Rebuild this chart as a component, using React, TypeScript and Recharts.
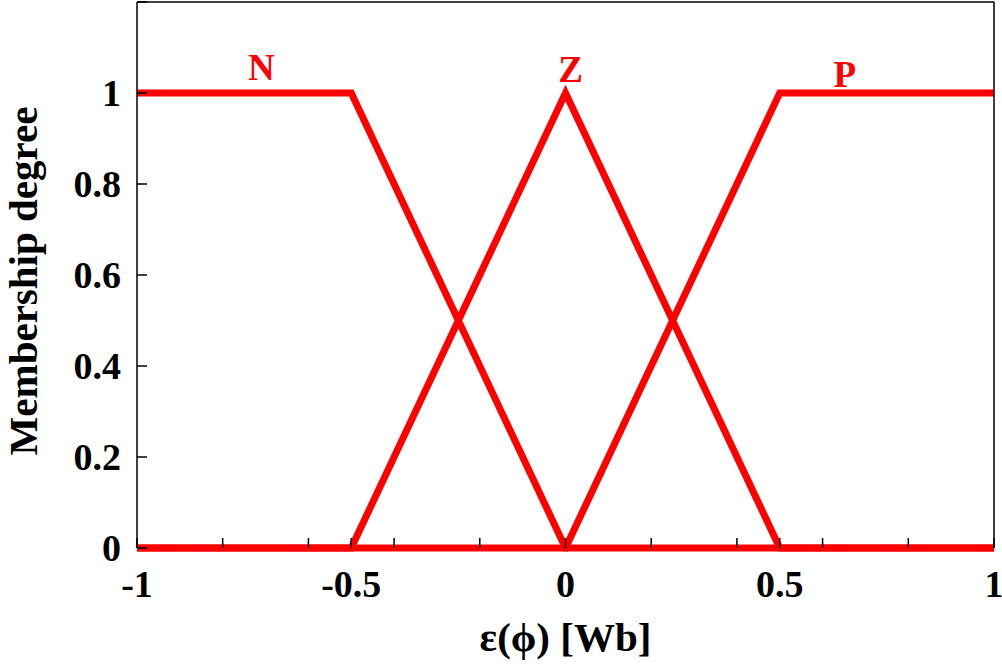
import { LineChart, Line, XAxis, YAxis, ReferenceDot } from 'recharts'

// membership functions, breakpoints on the x axis and their degrees
const N_X = [-1, -0.5, 0, 1]
const N_Y = [1, 1, 0, 0]
const Z_X = [-1, -0.5, 0, 0.5, 1]
const Z_Y = [0, 0, 1, 0, 0]
const P_X = [-1, 0, 0.5, 1]
const P_Y = [0, 0, 1, 1]

const X_TICKS = [-1, -0.8, -0.6, -0.5, -0.4, -0.2, 0, 0.2, 0.4, 0.5, 0.6, 0.8, 1]
const X_LABELS = [-1, -0.5, 0, 0.5, 1]
const Y_TICKS = [0, 0.2, 0.4, 0.6, 0.8, 1, 1.2]
const Y_LABELS = [0, 0.2, 0.4, 0.6, 0.8, 1]

// set names and where they sit (x, degree)
const SET_NAMES = ['N', 'Z', 'P']
const NAME_X = [-0.71, 0.012, 0.652]
const NAME_Y = [1.029, 1.024, 1.013]

const RED = '#ff0000'
const FONT = '"Liberation Serif", "Times New Roman", serif'

const toPoints = (xs: number[], ys: number[]) => xs.map((x, i) => ({ x, y: ys[i] }))

// eslint-disable-next-line @typescript-eslint/no-explicit-any
function XTick({ x, y, payload }: any) {
  if (!X_LABELS.includes(payload.value)) return null
  return (
    <text x={x} y={y + 49} textAnchor="middle" fill="#000" fontSize={38} fontWeight="bold" fontFamily={FONT}>
      {payload.value}
    </text>
  )
}

// eslint-disable-next-line @typescript-eslint/no-explicit-any
function YTick({ x, y, payload }: any) {
  if (!Y_LABELS.includes(payload.value)) return null
  return (
    <text x={x - 16} y={y + 13} textAnchor="end" fill="#000" fontSize={38} fontWeight="bold" fontFamily={FONT}>
      {payload.value}
    </text>
  )
}

// eslint-disable-next-line @typescript-eslint/no-explicit-any
function YTitle({ viewBox }: any) {
  const cx = 23
  const cy = viewBox.y + viewBox.height / 2 + 6
  return (
    <text
      x={cx}
      y={cy}
      transform={`rotate(-90, ${cx}, ${cy})`}
      textAnchor="middle"
      dominantBaseline="central"
      fill="#000"
      fontSize={41}
      fontWeight="bold"
      fontFamily={FONT}
    >
      Membership degree
    </text>
  )
}

// eslint-disable-next-line @typescript-eslint/no-explicit-any
function XTitle({ viewBox }: any) {
  return (
    <text
      x={viewBox.x + viewBox.width / 2}
      y={651}
      textAnchor="middle"
      fill="#000"
      fontSize={41}
      fontWeight="bold"
      fontFamily={FONT}
    >
      ε(ϕ) [Wb]
    </text>
  )
}

function NameLabel(name: string) {
  // eslint-disable-next-line @typescript-eslint/no-explicit-any
  return function Inner({ viewBox }: any) {
    return (
      <text x={viewBox.x} y={viewBox.y} textAnchor="middle" fill={RED} fontSize={37} fontWeight="bold" fontFamily={FONT}>
        {name}
      </text>
    )
  }
}

export default function App() {
  const axisLine = { stroke: '#000', strokeWidth: 1.5 }
  const tickLine = { stroke: '#000', strokeWidth: 1.5 }
  return (
    <div style={{ position: 'absolute', left: 0, top: 0, background: '#fff' }}>
      <LineChart width={1002} height={670} margin={{ top: 1, right: 7, left: 0, bottom: 0 }}>
        {/* bottom frame edge is hidden under the red zero line */}
        <XAxis
          xAxisId="b"
          type="number"
          dataKey="x"
          domain={[-1, 1]}
          ticks={X_TICKS}
          interval={0}
          height={122}
          axisLine={false}
          tickLine={tickLine}
          tickSize={-10}
          tickMargin={10}
          tick={<XTick />}
          label={<XTitle />}
        />
        <XAxis
          xAxisId="t"
          orientation="top"
          type="number"
          dataKey="x"
          domain={[-1, 1]}
          ticks={X_TICKS}
          interval={0}
          height={1}
          axisLine={axisLine}
          tickLine={tickLine}
          tickSize={-10}
          tick={false}
        />
        <YAxis
          yAxisId="l"
          type="number"
          domain={[0, 1.2]}
          ticks={Y_TICKS}
          interval={0}
          width={137}
          axisLine={axisLine}
          tickLine={tickLine}
          tickSize={-10}
          tickMargin={10}
          tick={<YTick />}
          label={<YTitle />}
        />
        <YAxis
          yAxisId="r"
          orientation="right"
          type="number"
          domain={[0, 1.2]}
          ticks={Y_TICKS}
          interval={0}
          width={1}
          axisLine={axisLine}
          tickLine={tickLine}
          tickSize={-10}
          tick={false}
        />
        {[toPoints(N_X, N_Y), toPoints(Z_X, Z_Y), toPoints(P_X, P_Y)].map((pts, i) => (
          <Line
            key={SET_NAMES[i]}
            xAxisId="b"
            yAxisId="l"
            data={pts}
            dataKey="y"
            type="linear"
            stroke={RED}
            strokeWidth={7}
            strokeLinejoin="miter"
            dot={false}
            activeDot={false}
            isAnimationActive={false}
          />
        ))}
        {SET_NAMES.map((name, i) => {
          const Lbl = NameLabel(name)
          return (
            <ReferenceDot
              key={`name-${name}`}
              xAxisId="b"
              yAxisId="l"
              x={NAME_X[i]}
              y={NAME_Y[i]}
              r={0}
              fill="none"
              stroke="none"
              label={<Lbl />}
            />
          )
        })}
      </LineChart>
    </div>
  )
}
